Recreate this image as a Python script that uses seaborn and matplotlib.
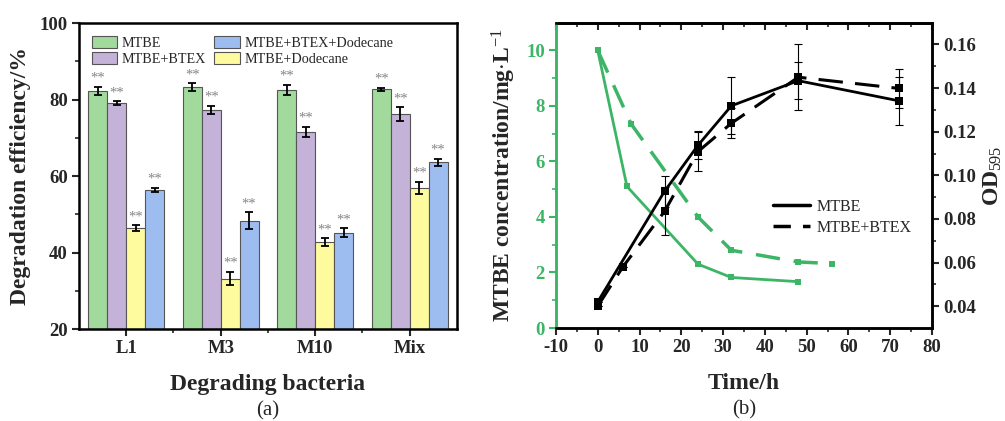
import numpy as np
import pandas as pd
import matplotlib
matplotlib.use("Agg")
import matplotlib.pyplot as plt
from matplotlib.lines import Line2D
import seaborn as sns

# ---------------- data (a) ----------------
bacteria = ["L1", "M3", "M10", "Mix"]
treatments = ["MTBE", "MTBE+BTEX", "MTBE+Dodecane", "MTBE+BTEX+Dodecane"]
eff_mtbe = [82.3, 83.3, 82.5, 82.7]
eff_btex = [79.1, 77.3, 71.6, 76.2]
eff_dod = [46.4, 33.2, 42.7, 56.9]
eff_btex_dod = [56.3, 48.3, 45.2, 63.6]
err_mtbe = [1.1, 1.0, 1.4, 0.4]
err_btex = [0.5, 1.1, 1.3, 1.8]
err_dod = [0.7, 1.8, 1.1, 1.6]
err_btex_dod = [0.6, 2.2, 1.1, 0.9]
bar_colors = ["#a2d99c", "#c4b2d8", "#fdfb9e", "#9dbdf1"]

# ---------------- data (b) ----------------
t_conc_mtbe = [0, 7, 24, 32, 48]
conc_mtbe = [10.0, 5.1, 2.3, 1.82, 1.67]
t_conc_btex = [0, 8, 24, 32, 48, 56]
conc_btex = [10.0, 7.35, 4.0, 2.8, 2.38, 2.32]
t_od_mtbe = [0, 16, 24, 32, 48, 72]
od_mtbe = [0.042, 0.0927, 0.1138, 0.1319, 0.1434, 0.1342]
od_mtbe_err = [0.0, 0.007, 0.0065, 0.013, 0.0085, 0.011]
t_od_btex = [0, 6, 16, 24, 32, 48, 72]
od_btex = [0.040, 0.058, 0.0835, 0.1109, 0.1239, 0.145, 0.1399]
od_btex_err = [0.0, 0.0, 0.011, 0.009, 0.007, 0.015, 0.009]

sns.set_theme(style="white")
plt.rcParams["font.family"] = ["Liberation Serif", "DejaVu Serif"]
plt.rcParams["mathtext.fontset"] = "custom"
plt.rcParams["mathtext.rm"] = "Liberation Serif"
plt.rcParams["mathtext.bf"] = "Liberation Serif:bold"
plt.rcParams["mathtext.it"] = "Liberation Serif:italic"
plt.rcParams["axes.unicode_minus"] = False

fig = plt.figure(figsize=(10.05, 4.21), dpi=100)
ax1 = fig.add_axes([0.0786, 0.2185, 0.3761, 0.7268])
ax2 = fig.add_axes([0.5532, 0.2209, 0.3741, 0.7252])

TICK = 13.5
LAB = 17

# ---------------- panel (a) ----------------
vals = [eff_mtbe, eff_btex, eff_dod, eff_btex_dod]
errs = [err_mtbe, err_btex, err_dod, err_btex_dod]
df = pd.DataFrame({
    "bacteria": np.repeat([bacteria], 4, axis=0).ravel(),
    "treatment": np.repeat(treatments, 4),
    "eff": np.concatenate(vals),
})
sns.barplot(data=df, x="bacteria", y="eff", hue="treatment", order=bacteria,
            hue_order=treatments, palette=bar_colors, errorbar=None,
            saturation=1, width=0.8, edgecolor="#555555", linewidth=0.8,
            ax=ax1, legend=True)
ax1.set_ylim(20, 100)
ax1.set_xlim(-0.5, 3.5)
for cont, e in zip(ax1.containers, errs):
    xs = [p.get_x() + p.get_width() / 2 for p in cont.patches]
    hs = [p.get_height() for p in cont.patches]
    ax1.errorbar(xs, hs, yerr=e, fmt="none", ecolor="black", elinewidth=1.3,
                 capsize=3, capthick=1.3, zorder=5)
    for x, h, ee in zip(xs, hs, e):
        ax1.text(x, h + ee + 0.5, "**", ha="center", va="bottom", fontsize=10.5,
                 color="#858585")

handles, labels = ax1.get_legend_handles_labels()
order = [0, 1, 3, 2]
ax1.legend([handles[i] for i in order], [labels[i] for i in order], ncol=2,
           loc="upper left", bbox_to_anchor=(0.0, 1.0), frameon=False,
           fontsize=10.2, handlelength=1.8, handleheight=0.9,
           columnspacing=0.6, handletextpad=0.3, labelspacing=0.2,
           borderaxespad=0.5)
ax1.set_xlabel("Degrading bacteria", fontsize=LAB, fontweight="bold", labelpad=12)
ax1.set_ylabel("Degradation efficiency/%", fontsize=LAB, fontweight="bold", labelpad=6)
ax1.set_yticks([20, 40, 60, 80, 100])
ax1.set_yticks([30, 50, 70, 90], minor=True)
ax1.set_xticks([0.5, 1.5, 2.5], minor=True)
ax1.tick_params(axis="both", which="major", direction="out", length=5, width=1.5,
                labelsize=TICK, left=True, bottom=True, pad=3)
ax1.tick_params(axis="both", which="minor", direction="out", length=3, width=1.2,
                left=True, bottom=True)
for lab in ax1.get_xticklabels() + ax1.get_yticklabels():
    lab.set_fontweight("bold")
for s in ax1.spines.values():
    s.set_linewidth(1.8)
    s.set_color("black")
ax1.text(0.5, -0.235, "(a)", transform=ax1.transAxes, ha="center", va="top",
         fontsize=15)

# ---------------- panel (b) ----------------
green = "#3cb566"
ax3 = ax2.twinx()
sns.lineplot(x=t_conc_mtbe, y=conc_mtbe, ax=ax2, color=green, linewidth=2,
             marker="s", markersize=5, markeredgewidth=0)
sns.lineplot(x=t_conc_btex, y=conc_btex, ax=ax2, color=green, linewidth=2.5,
             marker="s", markersize=5, markeredgewidth=0)
ax2.lines[-1].set_dashes([7, 4])

sns.lineplot(x=t_od_mtbe, y=od_mtbe, ax=ax3, color="black", linewidth=2,
             marker="s", markersize=6, markeredgewidth=0)
sns.lineplot(x=t_od_btex, y=od_btex, ax=ax3, color="black", linewidth=2.2,
             marker="s", markersize=6, markeredgewidth=0)
ax3.lines[-1].set_dashes([8, 4])
ax3.errorbar(t_od_mtbe, od_mtbe, yerr=od_mtbe_err, fmt="none", ecolor="black",
             elinewidth=0.8, capsize=3, capthick=0.8)
ax3.errorbar(t_od_btex, od_btex, yerr=od_btex_err, fmt="none", ecolor="black",
             elinewidth=0.8, capsize=3, capthick=0.8)

ax2.set_xlim(-10, 80)
ax2.set_ylim(0, 11)
ax3.set_ylim(0.03, 0.17)
ax2.set_xticks(np.arange(-10, 81, 10))
ax2.set_xticks(np.arange(-5, 80, 10), minor=True)
ax2.set_yticks([0, 2, 4, 6, 8, 10])
ax2.set_yticks([1, 3, 5, 7, 9], minor=True)
ax3.set_yticks([0.04, 0.06, 0.08, 0.10, 0.12, 0.14, 0.16])
ax3.set_yticks(np.arange(0.05, 0.17, 0.02), minor=True)
ax3.set_yticklabels(["0.04", "0.06", "0.08", "0.10", "0.12", "0.14", "0.16"])

ax2.tick_params(axis="x", which="major", direction="out", length=5, width=1.5,
                labelsize=TICK, bottom=True, pad=3)
ax2.tick_params(axis="x", which="minor", direction="out", length=3, width=1.2,
                bottom=True)
ax2.tick_params(axis="y", which="major", direction="out", length=5, width=1.5,
                labelsize=TICK, left=True, colors=green, pad=3)
ax2.tick_params(axis="y", which="minor", direction="out", length=3, width=1.2,
                left=True, colors=green)
ax3.tick_params(axis="y", which="major", direction="out", length=5, width=1.5,
                labelsize=TICK, right=True, pad=3)
ax3.tick_params(axis="y", which="minor", direction="out", length=3, width=1.2,
                right=True)
# inward ticks on top spine
sec = ax2.secondary_xaxis("top")
sec.set_xticks(np.arange(-10, 81, 10))
sec.set_xticks(np.arange(-5, 80, 10), minor=True)
sec.tick_params(axis="x", which="major", direction="in", length=5, width=1.5,
                labeltop=False)
sec.tick_params(axis="x", which="minor", direction="in", length=3, width=1.2,
                labeltop=False)
sec.spines["top"].set_linewidth(1.8)
for lab in ax2.get_xticklabels() + ax2.get_yticklabels() + ax3.get_yticklabels():
    lab.set_fontweight("bold")

for s in list(ax2.spines.values()) + list(ax3.spines.values()):
    s.set_linewidth(1.8)
    s.set_color("black")
ax2.spines["left"].set_color(green)
ax3.spines["left"].set_color(green)

ax2.set_xlabel("Time/h", fontsize=LAB, fontweight="bold", labelpad=12)
ax2.set_ylabel("MTBE concentration/mg$\\cdot$L$^{-1}$", fontsize=LAB,
               fontweight="bold", labelpad=6)
ax3.set_ylabel("OD$_{595}$", fontsize=LAB, fontweight="bold", labelpad=4)

leg_handles = [Line2D([], [], color="black", linewidth=2.5),
               Line2D([], [], color="black", linewidth=2.5, dashes=[5, 3.5])]
ax3.legend(leg_handles, ["MTBE", "MTBE+BTEX"], loc="upper left",
           bbox_to_anchor=(0.54, 0.47), frameon=False, fontsize=11.5,
           handlelength=2.3, handletextpad=0.4, labelspacing=0.3)
ax2.text(0.5, -0.235, "(b)", transform=ax2.transAxes, ha="center", va="top",
         fontsize=15)

fig.savefig("out.png", dpi=100)
